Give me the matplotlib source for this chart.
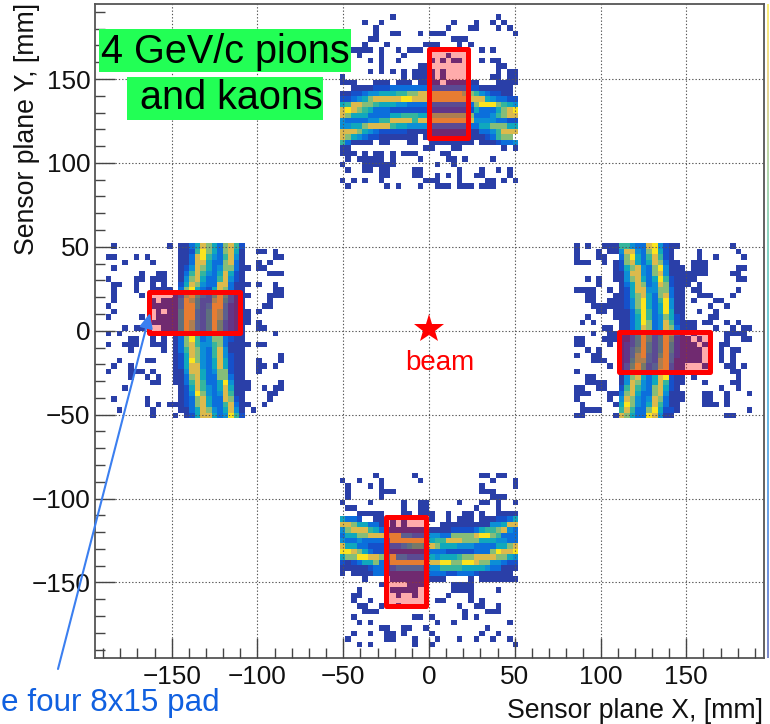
import numpy as np
import matplotlib
matplotlib.use("Agg")
import matplotlib.pyplot as plt
from matplotlib.colors import ListedColormap, BoundaryNorm, LinearSegmentedColormap
from matplotlib.patches import Rectangle

plt.rcParams['font.family'] = ['Liberation Sans', 'DejaVu Sans']

W, H = 770, 724
bin_w = 3.25

# occupancy per sensor, first row is the top one, '.' = empty bin, 1-9 = colour level
top_rows = [
    ".........1..................1...",
    "....1..1............1...1..1.1..",
    "......1............1...11...1.1.",
    "......1..11...1.111............1",
    ".....11.............111.........",
    "....1...1......111...1.1........",
    "..1111.1..1.111..........1.1....",
    "...1...1...1.......1............",
    ".....1.1..1.....1.1.11...1.11...",
    ".......1......11............11..",
    ".....1.1.1.1.1111.1.........1.11",
    "1..........1.1111.1........11.11",
    "111...111.111.1111.111111...1111",
    "..11112223333333333333322111111.",
    "1122344555667788888888776432211.",
    "22345788888998888888888888543322",
    "56887765554433333333333379997654",
    "89876533322222222222222253335789",
    "87555333355666557777777733346788",
    "43333446688886888888888844443322",
    "44557888865544443333333335577755",
    "88875432222211111111111113346888",
    "875432211111 1.1111111111123677".replace(" ", "1"),
    "631111.11...11..11111111.1112334",
    "11.............11...11.......1.1",
    "111.1.11.1.111....11............",
    ".1.11111.1....1....11.1....1....",
    "1...111111.......1..1...........",
    ".1..11.11....11......1...1..1.1.",
    ".......11....11..1.1.1..11....1.",
    "1.1.1..1.......111...1....11.1.1",
    ".1......1.1...1..111.111.111....",
]

left_rows = [
    ".1.........1.113587537862.......",
    ".............112697537851..11.1.",
    "11...1.1.....113896436841.....11",
    "...1....1....113885337831..1.1..",
    ".1...........1248753477311.11...",
    "......1..11..136864358521....111",
    "1....11.111..147853368421.......",
    ".11..1..1.1..2587433883111.1..1.",
    ".1...1..1111.379532587311.....11",
    ".1....1.....13786436863111...111",
    ".1......1.111487533785311....1..",
    "1.......11111488534884211...11..",
    ".1.......1.115884358742111.1....",
    "1.....1..11115884358742111......",
    "........111115874358632111.1....",
    "...1.11...111587435863211..11...",
    "1.1.........1489534873211.....1.",
    "....11..1.1.1379634773211.......",
    "1..111..111.13786446731111.11...",
    "....1.....1.1368743684111.......",
    "............1258743684211......1",
    "..1....11...1259743585211..1...1",
    ".1..1.......1258843585211..11.1.",
    "1...111.1...1148853477211..1....",
    "....1..1.1..1137853377311.......",
    "........11..11368633594111.....1",
    "...1.........1258643585111..1.11",
    ".............124974348611....11.",
    ".1.....1.....123785338721....1..",
    ".......1.1.111237853368311..1...",
    "..1.....1....113587435841.1.....",
    "........1...1.12588534962.......",
]

right_rows = [
    "1.1..11166433894211.........1...",
    "1...1.114884379521....1......1..",
    "1...11..3795368621....1..1....1.",
    "111..1.127853587311..111........",
    ".......1257843794111.111.....11.",
    ".......11488437841111111....11..",
    "..1.1..114785359621111.......11.",
    "....1...1358734872111.1.........",
    "1111..1.125884477311.11......1..",
    "..11...1125785378311..111...1...",
    "..11..11124795369411.1...11.....",
    "...11111124795359411....1..1....",
    "....11.1113696359511..1..1......",
    "..1....1113596347521....11......",
    ".1.1....11359734862111.11..1.1..",
    ".....11.11358734873111...1..1.11",
    "...1..11113586348731.1.....1111.",
    "11...1111135863586211.1....1..11",
    "11....1.12358535852111.1..11....",
    "..1.1...124685358521111.1.1.11..",
    "1..11...124784368421111...1.1...",
    "...111..125774378411111...1.1...",
    "......1.136863478311...1...11.1.",
    "1.......137863488311........11..",
    "..11....147853589211.1.......1..",
    "..1111..148743586211...1....11..",
    "11..11..26864378521.......1..1..",
    "111...11378533784111...11..1...1",
    "1.....1.487434873111...11..1....",
    ".1.....159743586311....111.1....",
    ".1111...68633795221............1",
    "11.....18753398411.........11...",
]

bottom_rows = [
    "......1......1...........11.11..",
    "1..1...1......1............1...1",
    ".1...1.1.................1.....1",
    ".1.....111...............111....",
    ".1.....1...................111..",
    "1....1.....1..11.....1...11.1..1",
    ".11........1..11........1...1...",
    "...11111...11.111..1..11.1..1111",
    "5332..11.1.1....1..1.111.1112235",
    "88755331.1.1......11111111144588",
    "47888653211111111111222235667843",
    "35577888788443334433777789976333",
    "43343333388888885668887775554433",
    "85533222233456658755544433335578",
    "99875322211111113332222233379889",
    "57799887584433335455567788887754",
    "21235573388888888899779987744322",
    "11111233234444434466665555433111",
    "1.11113321111111333223332111111.",
    "....1....1111111111....1.1111111",
    ".......1....1111....1111........",
    "...1.....11111......1111....1...",
    "..11......1..1.....1...1........",
    "..1..1...........11....1.1......",
    "...11..1..1..........1..11..1...",
    "....111...............1...111...",
    "..1..........11.1.....1.1.......",
    "...1.1...........1..1.........1.",
    ".......11..11..1..........1.....",
    "..1..1..11.1....1........1..1...",
    ".1......11...1...1...1..1..1..1.",
    "...1.1.......1..1..............1",
]

# lower left corner of every sensor, counted in bins from the origin
top_start = (-16, 26)
left_start = (-58, -16)
right_start = (26, -16)
bottom_start = (-16, -58)

# red pad frames: x0, x1, y0, y1 in mm
pad_top = (0, 23, 115, 168)
pad_bottom = (-25, -1.5, -164, -111)
pad_left = (-163.5, -110, -1.5, 23)
pad_right = (111, 164, -24.5, -0.5)

levels = ['#2a3fa8', '#1550cb', '#0b6fdc', '#0c8fd6', '#10a8bd',
          '#35b59d', '#86bd78', '#dcba4c', '#fbe41e']

xticks = [-150, -100, -50, 0, 50, 100, 150]
yticks = [-150, -100, -50, 0, 50, 100, 150]

counts = np.full((120, 120), np.nan)


def fill(rows, start):
    for i, row in enumerate(rows):
        row = row.ljust(32, '.')[:32]
        iy = start[1] + 31 - i + 60
        for j, c in enumerate(row):
            if c != '.':
                counts[iy, start[0] + j + 60] = int(c)


fill(top_rows, top_start)
fill(left_rows, left_start)
fill(right_rows, right_start)
fill(bottom_rows, bottom_start)

fig = plt.figure(figsize=(W / 100, H / 100), dpi=100)
ax = fig.add_axes([94.5 / W, 1 - 658 / H, (763.5 - 94.5) / W, (658 - 3.5) / H])

edges = np.arange(-60, 61) * bin_w
ax.pcolormesh(edges, edges, np.ma.masked_invalid(counts), zorder=1,
              cmap=ListedColormap(levels),
              norm=BoundaryNorm(np.arange(0.5, 10.5), 9))

ax.set_xlim(-195, 195)
ax.set_ylim(-195, 195)
ax.set_xticks(xticks)
ax.set_yticks(yticks)
ax.set_xticks(np.arange(-190, 191, 10), minor=True)
ax.set_yticks(np.arange(-190, 191, 10), minor=True)
ax.tick_params(which='major', direction='in', length=14.5, width=1, color='#444444',
               labelsize=18.8, labelcolor='#111111', top=False, right=False, zorder=5)
ax.tick_params(which='minor', direction='in', length=7, width=1, color='#444444',
               top=False, right=False)
ax.tick_params(axis='x', pad=5)
ax.tick_params(axis='y', pad=3)
ax.grid(True, which='major', color='#555555', linestyle=(0, (1.2, 1.8)), linewidth=0.8, zorder=2)
ax.set_axisbelow(False)
for s in ax.spines.values():
    s.set_color('#555555')
    s.set_linewidth(1.3)

for x0, x1, y0, y1 in [pad_top, pad_bottom, pad_left, pad_right]:
    ax.add_patch(Rectangle((x0, y0), x1 - x0, y1 - y0, facecolor=(1, 0, 0, 0.33),
                           edgecolor='none', zorder=3))
    ax.add_patch(Rectangle((x0, y0), x1 - x0, y1 - y0, facecolor='none',
                           edgecolor='#ff0000', linewidth=3.6, joinstyle='round', zorder=4))

ax.plot([0], [0.8], marker='*', color='#ff0000', markersize=22, markeredgewidth=0, zorder=6)
ax.text(6.5, -19, 'beam', color='#ff0000', fontsize=20, ha='center', va='center', zorder=6)

fig.text(763 / W, 1 - 711 / H, 'Sensor plane X, [mm]', fontsize=19.2, ha='right', va='center', color='#111111')
fig.text(27 / W, 1 - 3 / H, 'Sensor plane Y, [mm]', fontsize=19.2, rotation=90, ha='center', va='top', color='#111111')

green = '#22ff55'
fig.patches.append(Rectangle((99 / W, 1 - 72 / H), 252 / W, 43 / H, transform=fig.transFigure, facecolor=green, edgecolor='none', zorder=7))
fig.patches.append(Rectangle((127 / W, 1 - 120 / H), 196 / W, 43 / H, transform=fig.transFigure, facecolor=green, edgecolor='none', zorder=7))
fig.text(225.5 / W, 1 - 52 / H, '4 GeV/c pions', fontsize=28.5, ha='center', va='center', color='black', zorder=8)
fig.text(231 / W, 1 - 98 / H, 'and kaons', fontsize=28.5, ha='center', va='center', color='black', zorder=8)

ax.annotate('', xy=(150, H - 313), xytext=(58, H - 669),
            xycoords='figure pixels', textcoords='figure pixels', annotation_clip=False,
            arrowprops=dict(arrowstyle='-|>,head_length=0.9,head_width=0.4', color='#3b7ff0',
                            linewidth=1.5, shrinkA=0, shrinkB=0), zorder=9)
fig.text(1 / W, 1 - 703 / H, 'e four 8x15 pad', fontsize=22.6, color='#1060e0', ha='left', va='center')

# sliver of the colour palette left at the right border
pal = fig.add_axes([766.5 / W, 1 - 658 / H, 1.5 / W, (658 - 3.5) / H])
pal.imshow(np.arange(256)[:, None], aspect='auto', origin='lower', alpha=0.6,
           cmap=LinearSegmentedColormap.from_list('palette', levels))
pal.axis('off')

fig.savefig('out.png', dpi=100)
